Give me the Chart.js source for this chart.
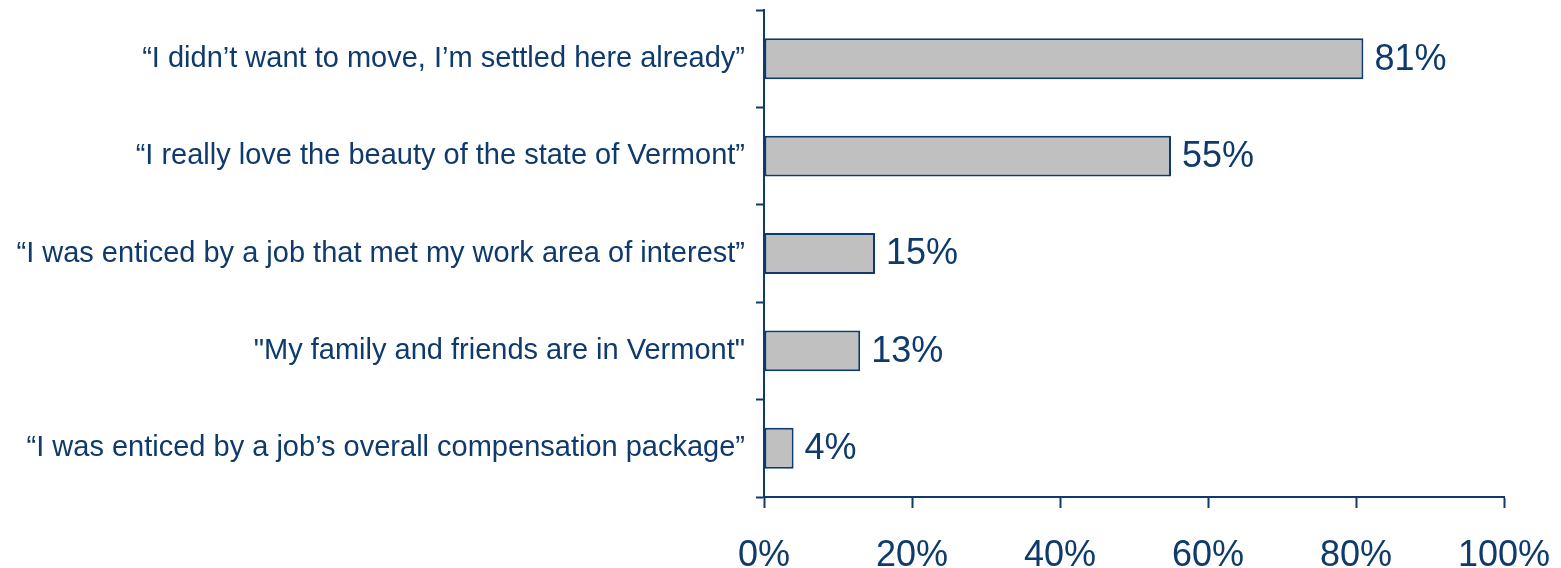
<!DOCTYPE html>
<html>
<head>
<meta charset="utf-8">
<script src="https://cdn.jsdelivr.net/npm/chart.js@4"></script>
<style>
  html, body { margin: 0; padding: 0; background: #fff; }
  canvas { display: block; }
</style>
</head>
<body>
<canvas id="reasonsChart" width="1561" height="568"></canvas>
<script>
const reasons = [
  "\u201cI didn\u2019t want to move, I\u2019m settled here already\u201d",
  "\u201cI really love the beauty of the state of Vermont\u201d",
  "\u201cI was enticed by a job that met my work area of interest\u201d",
  "\"My family and friends are in Vermont\"",
  "\u201cI was enticed by a job\u2019s overall compensation package\u201d"
];
const shares = [81, 55, 15, 13, 4];
const percentTicks = [0, 20, 40, 60, 80, 100];

const navy = '#0e3a6c';
const fontFamily = '"Liberation Sans", Arial, sans-serif';

// draw the "81%" style labels at the end of each bar
const valueLabels = {
  id: 'valueLabels',
  afterDatasetsDraw(chart) {
    const ctx = chart.ctx;
    const meta = chart.getDatasetMeta(0);
    ctx.save();
    ctx.fillStyle = navy;
    ctx.font = '36px ' + fontFamily;
    ctx.textAlign = 'left';
    ctx.textBaseline = 'middle';
    meta.data.forEach((bar, i) => {
      ctx.fillText(shares[i] + '%', bar.x + 11, bar.y + 1);
    });
    ctx.restore();
  }
};

const ctx = document.getElementById('reasonsChart').getContext('2d');
new Chart(ctx, {
  type: 'bar',
  data: {
    labels: reasons,
    datasets: [{
      data: shares,
      backgroundColor: '#c0c0c0',
      borderColor: navy,
      borderWidth: 2,
      borderSkipped: false,
      barPercentage: 0.42,
      categoryPercentage: 1
    }]
  },
  options: {
    indexAxis: 'y',
    responsive: false,
    animation: false,
    layout: { padding: { top: 10, right: 0, left: 0, bottom: 0 } },
    plugins: {
      legend: { display: false },
      tooltip: { enabled: false }
    },
    scales: {
      x: {
        min: 0,
        max: 100,
        afterBuildTicks(scale) {
          scale.ticks = percentTicks.map(v => ({ value: v }));
        },
        afterFit(scale) {
          scale.height = 71;
          scale.paddingRight = 57;
          scale.paddingLeft = 0;
        },
        ticks: {
          color: navy,
          font: { size: 36, family: fontFamily },
          padding: 26,
          callback: v => v + '%',
          maxRotation: 0
        },
        grid: {
          drawOnChartArea: false,
          drawTicks: true,
          tickLength: 11,
          tickWidth: 2,
          color: navy
        },
        border: { color: navy, width: 2 }
      },
      y: {
        afterFit(scale) {
          scale.width = 764;
          scale.paddingTop = 0;
          scale.paddingBottom = 0;
        },
        ticks: {
          color: navy,
          font: { size: 29, family: fontFamily },
          padding: 11,
          autoSkip: false
        },
        grid: {
          offset: true,
          drawOnChartArea: false,
          drawTicks: true,
          tickLength: 8,
          tickWidth: 2,
          color: navy
        },
        border: { color: navy, width: 2 }
      }
    }
  },
  plugins: [valueLabels]
});
</script>
</body>
</html>
